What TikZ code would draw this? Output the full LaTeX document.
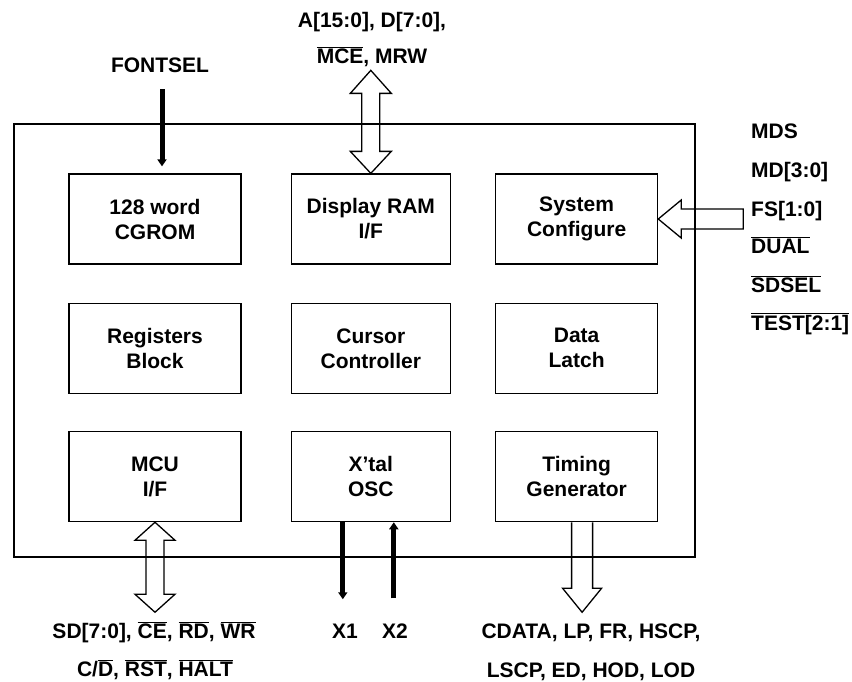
\documentclass[tikz,border=0pt]{standalone}
\usepackage{fontspec}
\setmainfont{Liberation Sans}
\usepackage{tikz}
\usetikzlibrary{arrows.meta,positioning,calc}
\newcommand{\ovl}[1]{\ensuremath{\overline{\hbox{#1}}}}

\begin{document}
\begin{tikzpicture}[
  x=1pt, y=-1pt,
  font=\fontsize{21}{25}\selectfont\bfseries,
  block/.style={draw, line width=1.3pt, align=center, minimum height=90pt, inner sep=2pt},
  frame/.style={draw, line width=1.3pt, minimum width=681pt, minimum height=433pt},
  hollow/.style={draw, line width=1.3pt, line join=miter},
  wire/.style={line width=5pt, -{Triangle[width=9pt,length=7pt]}},
  signame/.style={inner sep=0pt, anchor=base},
  node distance=38pt and 49pt
]
\useasboundingbox (0,0) rectangle (852,681);
\node[frame] (chip) at (354.5,340.5) {};

\node[block, minimum width=172pt] (cgrom) at (155,219) {128 word\\CGROM};
\node[block, minimum width=159pt, right=49pt of cgrom] (ram) {Display RAM\\I/F};
\node[block, minimum width=162pt, right=44pt of ram] (syscfg) {System\\Configure};
\node[block, minimum width=172pt, below=of cgrom] (regs) {Registers\\Block};
\node[block, minimum width=159pt, below=of ram] (cursor) {Cursor\\Controller};
\node[block, minimum width=162pt, below=of syscfg] (latch) {Data\\Latch};
\node[block, minimum width=172pt, below=37pt of regs] (mcu) {MCU\\I/F};
\node[block, minimum width=159pt, below=37pt of cursor] (osc) {X'tal\\OSC};
\node[block, minimum width=162pt, below=37pt of latch] (timing) {Timing\\Generator};

% signal names
\node[signame] (fontsel) at (160,72) {FONTSEL};
\node[signame] (bus1) at (372,27) {A[15:0], D[7:0],};
\node[signame] (bus2) at (372,63) {\ovl{MCE}, MRW};
\node[signame, anchor=base west] (mds) at (751,138) {MDS};
\node[signame, anchor=base west] (md) at (751,177) {MD[3:0]};
\node[signame, anchor=base west] (fs) at (751,216) {FS[1:0]};
\node[signame, anchor=base west] (dual) at (751,253) {\ovl{DUAL}};
\node[signame, anchor=base west] (sdsel) at (751,292) {\ovl{SDSEL}};
\node[signame, anchor=base west] (test) at (751,330) {\ovl{TEST[2:1]}};
\node[signame] (sd) at (154,638) {SD[7:0], \ovl{CE}, \ovl{RD}, \ovl{WR}};
\node[signame] (cd) at (155,676) {C/\ovl{D}, \ovl{RST}, \ovl{HALT}};
\node[signame] (x1) at (345,638) {X1};
\node[signame] (x2) at (395,638) {X2};
\node[signame] (cdata) at (591,638) {CDATA, LP, FR, HSCP,};
\node[signame] (lscp) at (591,677) {LSCP, ED, HOD, LOD};

% single lines
\draw[wire] ($(fontsel.south)+(2,17)$) -- ($(fontsel.south |- cgrom.north)+(2,-7)$);
\draw[wire] ($(osc.south)+(-28,0)$) -- ($(osc.south)+(-28,77)$);
\draw[wire] ($(osc.south)+(23,76)$) -- ($(osc.south)+(23,0)$);

% buses
\draw[hollow] (ram.north) -- ++(-20.5,-22) -- ++(11.5,0) -- ++(0,-58) -- ++(-11.5,0)
  -- ++(20.5,-23) -- ++(20.5,23) -- ++(-11.5,0) -- ++(0,58) -- ++(11.5,0) -- cycle;
\draw[hollow] (syscfg.east) -- ++(23,-19) -- ++(0,9) -- ++(62,0) -- ++(0,20)
  -- ++(-62,0) -- ++(0,9) -- cycle;
\draw[hollow] (mcu.south) -- ++(20,18) -- ++(-11,0) -- ++(0,54) -- ++(11,0)
  -- ++(-20,18) -- ++(-20,-18) -- ++(11,0) -- ++(0,-54) -- ++(-11,0) -- cycle;
\draw[hollow] ($(timing.south)+(-5,0)$) -- ++(0,66) -- ++(-9,0) -- ++(19.5,24)
  -- ++(19.5,-24) -- ++(-9,0) -- ++(0,-66);
\end{tikzpicture}
\end{document}
